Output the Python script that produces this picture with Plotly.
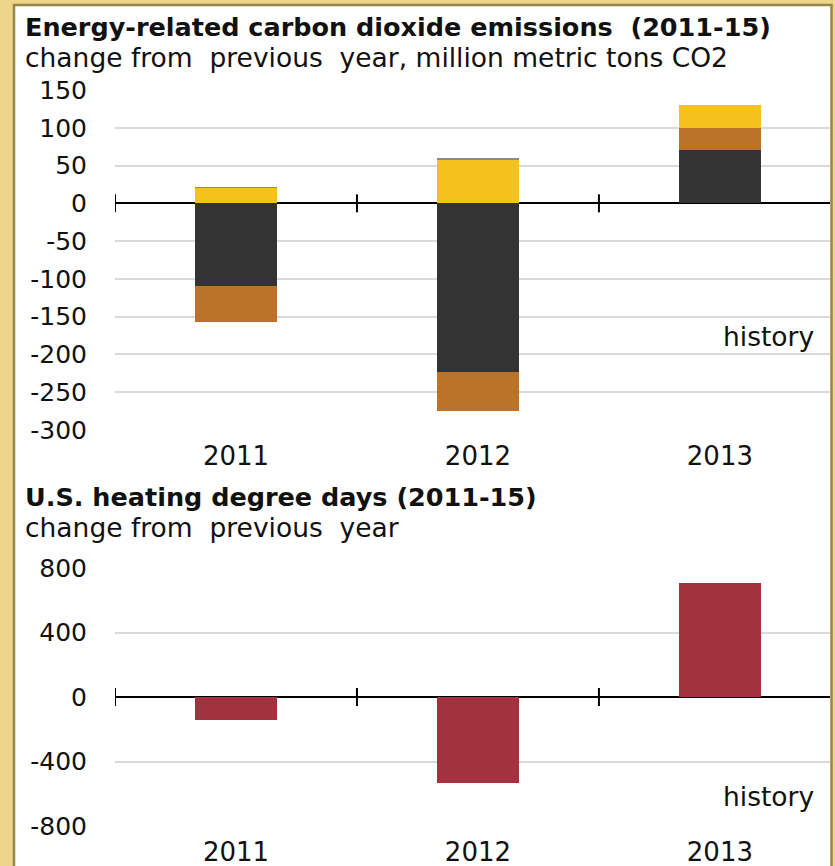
import plotly.graph_objects as go

W, H = 835, 866

years = ["2011", "2012", "2013"]
coal = [-110, -223, 70]
petroleum = [-47, -52, 30]
natural_gas = [20, 58, 30]
other = [2, 2, 0]
hdd_change = [-145, -532, 706]

co2_ticks = [150, 100, 50, 0, -50, -100, -150, -200, -250, -300]
co2_tick_text = ["150", "100", "50", "0", "-50", "-100", "-150", "-200", "-250", "-300"]
hdd_ticks = [800, 400, 0, -400, -800]
hdd_tick_text = ["800", "400", "0", "-400", "-800"]

colors = {"coal": "#333333", "petroleum": "#BD722B", "gas": "#F5C11D",
          "other": "#8A8A8A", "hdd": "#A3323F"}

fig = go.Figure()
bw = 0.34
for name, vals, c in [("Coal", coal, colors["coal"]),
                      ("Petroleum", petroleum, colors["petroleum"]),
                      ("Natural gas", natural_gas, colors["gas"]),
                      ("Other", other, colors["other"])]:
    fig.add_trace(go.Bar(x=years, y=vals, name=name, marker_color=c, width=bw,
                         marker_line_width=0, xaxis="x", yaxis="y", showlegend=False))
fig.add_trace(go.Bar(x=years, y=hdd_change, name="HDD", marker_color=colors["hdd"],
                     width=bw, marker_line_width=0, xaxis="x2", yaxis="y2", showlegend=False))

px = lambda v: v / W
py = lambda v: 1 - v / H

xdom = [px(115), px(830)]
xr = [-0.5, 2.455]
FONT = "DejaVu Sans, Verdana, sans-serif"
ytickfont = dict(family=FONT, size=25, color="#111111")
xtickfont = dict(family=FONT, size=26, color="#111111")

common_x = dict(type="category", range=xr, domain=xdom, showgrid=False, showline=False,
                zeroline=False, ticks="", tickfont=xtickfont, ticklabelstandoff=8,
                fixedrange=True, automargin=False)
common_y = dict(showgrid=True, gridcolor="#DADADA", gridwidth=2, zeroline=True,
                zerolinecolor="#000000", zerolinewidth=2, showline=False, ticks="",
                tickfont=ytickfont, ticklabelstandoff=27, fixedrange=True,
                automargin=False, tickmode="array")

fig.update_layout(
    width=W, height=H,
    margin=dict(l=0, r=0, t=0, b=0, pad=0),
    paper_bgcolor="#EED58C",
    plot_bgcolor="rgba(0,0,0,0)",
    barmode="relative",
    bargap=0,
    hovermode=False,
    xaxis=dict(common_x, anchor="y"),
    yaxis=dict(common_y, range=[-300, 150], domain=[py(430), py(90)],
               tickvals=co2_ticks, ticktext=co2_tick_text, anchor="x"),
    xaxis2=dict(common_x, anchor="y2"),
    yaxis2=dict(common_y, range=[-800, 800], domain=[py(826), py(568)],
                tickvals=hdd_ticks, ticktext=hdd_tick_text, anchor="x2"),
)

# white panel with olive border
fig.add_shape(type="rect", xref="paper", yref="paper", x0=px(14), x1=px(831.5),
              y0=py(H + 10), y1=py(5), fillcolor="white",
              line=dict(color="#958745", width=2.5), layer="below")

# category boundary tick marks on the zero line
for xa, ya in [("x", "y"), ("x2", "y2")]:
    for i in range(len(years)):
        b = i - 0.5
        fig.add_shape(type="line", xref=xa, yref=ya, x0=b, x1=b,
                      ysizemode="pixel", yanchor=0, y0=-9, y1=9,
                      line=dict(color="#000000", width=2))

title_font = dict(family=FONT, size=25.5, color="#111111")
sub_font = dict(family=FONT, size=26.5, color="#111111")

def note(text, x, y, font, xanchor="left"):
    fig.add_annotation(text=text, xref="paper", yref="paper", x=px(x), y=py(y),
                       xanchor=xanchor, yanchor="middle", showarrow=False, font=font)

NB = "\u00a0"
note("<b>Energy-related carbon dioxide emissions " + NB + "(2011-15)</b>", 23, 27, title_font)
note("change from " + NB + "previous " + NB + "year, million metric tons CO2", 23, 57, sub_font)
note("<b>U.S. heating degree days (2011-15)</b>", 23, 497, title_font)
note("change from " + NB + "previous " + NB + "year", 23, 527, sub_font)
note("history", 816, 336, sub_font, "right")
note("history", 816, 796, sub_font, "right")

fig.write_html("out.html", config={"displayModeBar": False, "staticPlot": True},
               post_script="document.body.style.margin='0px';")
